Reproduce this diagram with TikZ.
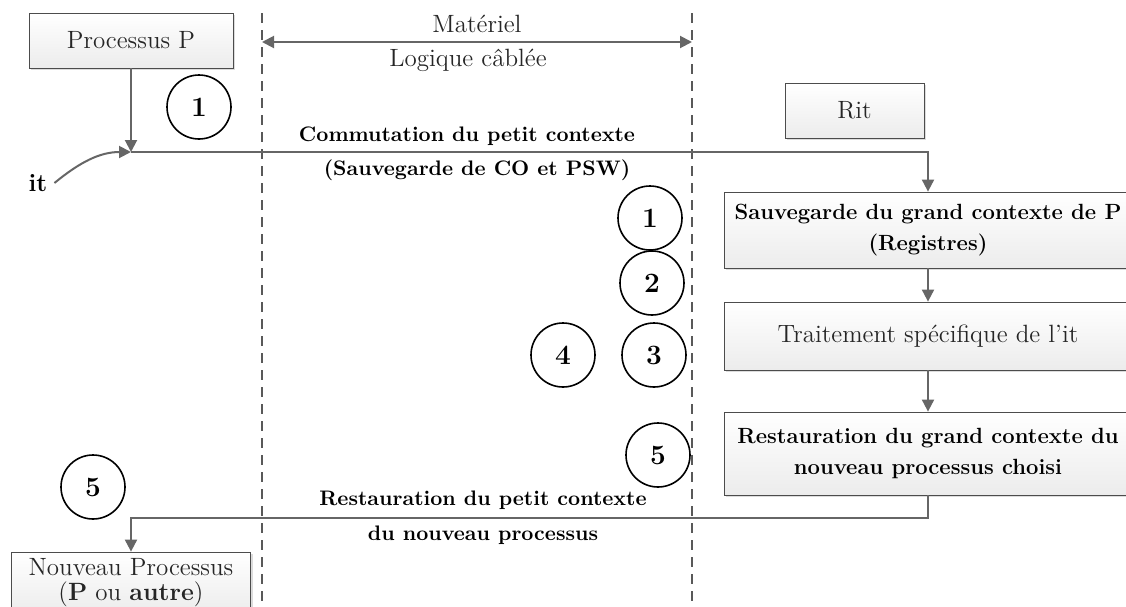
\documentclass[tikz,border=0pt]{standalone}
\usepackage{tikz}
\usetikzlibrary{arrows.meta,shadows,positioning}

\tikzset{
  >={Triangle[length=6pt,width=6pt]},
  box/.style={draw=gray!60!black, top color=white, bottom color=gray!15,
    drop shadow={shadow xshift=1.2pt,shadow yshift=-1.2pt,fill=gray!55},
    align=center, inner sep=2pt, text=black!85},
  flow/.style={draw=gray!80!black, line width=1pt, ->},
  num/.style={draw, circle, line width=0.8pt, minimum size=32pt, inner sep=0pt,
    font=\fontsize{14}{16}\selectfont\bfseries},
  lab/.style={font=\fontsize{10.5}{13}\selectfont\bfseries},
  sep/.style={draw=gray!70!black, line width=1pt, dash pattern=on 5pt off 3.5pt},
}

\begin{document}
\begin{tikzpicture}[x=0.5pt,y=-0.5pt, font=\fontsize{12.5}{15}\selectfont]
  \useasboundingbox (0,0) rectangle (1126,606);

  % Separateurs materiel
  \coordinate (s1top) at (262,13);
  \coordinate (s1bot) at (262,620);
  \coordinate (s2top) at (692,13);
  \coordinate (s2bot) at (692,620);
  \draw[sep] (s1top) -- (s1bot);
  \draw[sep] (s2top) -- (s2bot);

  % Materiel / Logique cablee
  \coordinate (m1) at (262,42);
  \coordinate (m2) at (692,42);
  \draw[flow,<->] (m1) -- (m2);
  \node[text=black!85] (mat) at (477,24) {Matériel};
  \node[text=black!85] (log) at (468,60) {Logique câblée};

  % Processus P
  \node[box, minimum width=102pt, minimum height=27.5pt] (pp) at (131,40.5) {Processus P};
  \coordinate (junc) at (131,152);
  \draw[flow] (pp) -- (junc);

  % Interruption
  \node (it) at (38,183) {\bfseries it};
  \draw[flow] (it.east) .. controls (80,162) and (100,152) .. (junc);

  % Rit
  \node[box, minimum width=69.5pt, minimum height=27.5pt] (rit) at (854.5,110.5) {Rit};

  % Traitement de l'interruption
  \node[box, minimum width=204pt, minimum height=38pt, font=\fontsize{11}{15.5}\selectfont\bfseries, text=black]
    (sauv) at (928,230) {Sauvegarde du grand contexte de P\\(Registres)};
  \node[box, minimum width=204pt, minimum height=34pt] (trait) at (928,336) {Traitement spécifique de l'it};
  \node[box, minimum width=204pt, minimum height=41.5pt, font=\fontsize{11}{15.5}\selectfont\bfseries, text=black]
    (rest) at (928,453.5) {Restauration du grand contexte du\\nouveau processus choisi};

  % Nouveau processus
  \node[box, minimum width=119.5pt, minimum height=31pt, font=\fontsize{12.5}{12.5}\selectfont]
    (nouv) at (131,583) {Nouveau Processus\\(\textbf{P} ou \textbf{autre})};

  % Fleches
  \draw[flow] (junc) -| (sauv);
  \draw[flow] (sauv) -- (trait);
  \draw[flow] (trait) -- (rest);
  \coordinate (ret) at (928,518);
  \draw[flow] (rest) -- (ret) -| (nouv);

  % Libelles
  \node[lab] (com) at (467,136) {Commutation du petit contexte};
  \node[lab] (svg) at (477,170) {(Sauvegarde de CO et PSW)};
  \node[lab] (rpc) at (483,500) {Restauration du petit contexte};
  \node[lab] (dnp) at (483,535) {du nouveau processus};

  % Etapes
  \node[num] (c1a) at (199,107) {1};
  \node[num] (c1b) at (650,218) {1};
  \node[num] (c2) at (652,283) {2};
  \node[num] (c3) at (654,355) {3};
  \node[num] (c4) at (563,355) {4};
  \node[num] (c5a) at (658,455) {5};
  \node[num] (c5b) at (93,487) {5};
\end{tikzpicture}
\end{document}
